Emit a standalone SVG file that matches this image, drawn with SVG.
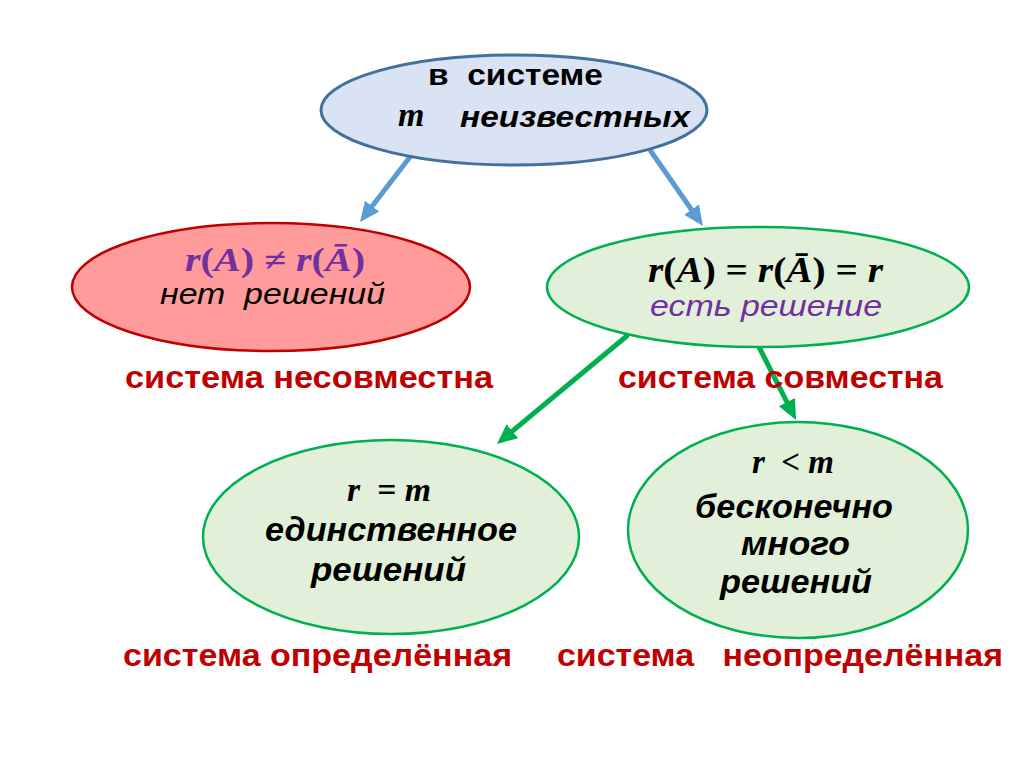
<svg xmlns="http://www.w3.org/2000/svg" width="1024" height="767" viewBox="0 0 1024 767">
<style>
.blue{fill:#DAE3F3;stroke:#41719C;stroke-width:3}
.red{fill:#FF9B9B;stroke:#C00000;stroke-width:2.5}
.green{fill:#E2F0D9;stroke:#00B050;stroke-width:2.5}
.sans{font-family:"Liberation Sans",Arial,sans-serif}
.serif{font-family:"Liberation Serif","Times New Roman",serif}
.b{font-weight:bold}
.i{font-style:italic}
.lbl{font-family:"Liberation Sans",Arial,sans-serif;font-weight:bold;font-size:31px;fill:#C00000}
.ab{stroke:#5B9BD5;stroke-width:5;fill:none}
.ag{stroke:#00B050;stroke-width:5;fill:none}
</style>
<defs>
<marker id="hb" markerUnits="userSpaceOnUse" markerWidth="22" markerHeight="20" refX="8" refY="9" orient="auto"><path d="M0,0 L20,9 L0,18 z" fill="#5B9BD5"/></marker>
<marker id="hg" markerUnits="userSpaceOnUse" markerWidth="22" markerHeight="20" refX="8" refY="9" orient="auto"><path d="M0,0 L20,9 L0,18 z" fill="#00B050"/></marker>
</defs>
<rect width="1024" height="767" fill="#ffffff"/>
<g id="connectors">
<line class="ab" x1="413" y1="153" x2="367.3" y2="212.5" marker-end="url(#hb)"/>
<line class="ab" x1="650" y1="150" x2="696.1" y2="216.2" marker-end="url(#hb)"/>
<line class="ag" x1="628" y1="335" x2="506.2" y2="436.3" marker-end="url(#hg)"/>
<line class="ag" x1="758" y1="345" x2="790.6" y2="409.3" marker-end="url(#hg)"/>
</g>
<g id="top">
<ellipse class="blue" cx="514" cy="110" rx="193" ry="55"/>
<text class="sans b" x="428" y="85" font-size="29" textLength="175" lengthAdjust="spacingAndGlyphs" xml:space="preserve">в  системе</text>
<text class="serif b i" x="398" y="126" font-size="34">m</text>
<text class="sans b i" x="460" y="127" font-size="29" textLength="230" lengthAdjust="spacingAndGlyphs">неизвестных</text>
</g>
<g id="nosol">
<ellipse class="red" cx="271" cy="287" rx="199" ry="64"/>
<text class="serif b" x="185" y="271" font-size="33" fill="#7030A0" textLength="180" lengthAdjust="spacingAndGlyphs"><tspan class="i">r</tspan>(<tspan class="i">A</tspan>) ≠ <tspan class="i">r</tspan>(<tspan class="i">Ā</tspan>)</text>
<text class="sans i" x="160" y="304" font-size="29" textLength="225" lengthAdjust="spacingAndGlyphs" xml:space="preserve">нет  решений</text>
</g>
<g id="sol">
<ellipse class="green" cx="758" cy="287" rx="211" ry="60"/>
<text class="serif b" x="648" y="282" font-size="36" fill="#000" textLength="235" lengthAdjust="spacingAndGlyphs"><tspan class="i">r</tspan>(<tspan class="i">A</tspan>) = <tspan class="i">r</tspan>(<tspan class="i">Ā</tspan>) = <tspan class="i">r</tspan></text>
<text class="sans i" x="650" y="316" font-size="30" fill="#7030A0" textLength="232" lengthAdjust="spacingAndGlyphs">есть решение</text>
</g>
<g id="labels1">
<text class="lbl" x="125" y="388" textLength="368" lengthAdjust="spacingAndGlyphs">система несовместна</text>
<text class="lbl" x="618" y="388" textLength="325" lengthAdjust="spacingAndGlyphs">система совместна</text>
</g>
<g id="unique">
<ellipse class="green" cx="391" cy="537" rx="188" ry="97"/>
<text class="serif b i" x="347" y="501" font-size="33" textLength="84" lengthAdjust="spacingAndGlyphs" xml:space="preserve">r  = m</text>
<text class="sans b i" x="265" y="541" font-size="33" textLength="252" lengthAdjust="spacingAndGlyphs">единственное</text>
<text class="sans b i" x="311" y="581" font-size="33" textLength="155" lengthAdjust="spacingAndGlyphs">решений</text>
</g>
<g id="infinite">
<ellipse class="green" cx="798" cy="530" rx="170" ry="108"/>
<text class="serif b i" x="752" y="473" font-size="33" textLength="82" lengthAdjust="spacingAndGlyphs" xml:space="preserve">r  &lt; m</text>
<text class="sans b i" x="695" y="518" font-size="33" textLength="198" lengthAdjust="spacingAndGlyphs">бесконечно</text>
<text class="sans b i" x="741" y="555" font-size="33" textLength="109" lengthAdjust="spacingAndGlyphs">много</text>
<text class="sans b i" x="720" y="593" font-size="33" textLength="152" lengthAdjust="spacingAndGlyphs">решений</text>
</g>
<g id="labels2">
<text class="lbl" x="123" y="666" textLength="389" lengthAdjust="spacingAndGlyphs">система определённая</text>
<text class="lbl" x="557" y="666" textLength="446" lengthAdjust="spacingAndGlyphs" xml:space="preserve">система   неопределённая</text>
</g>
</svg>
